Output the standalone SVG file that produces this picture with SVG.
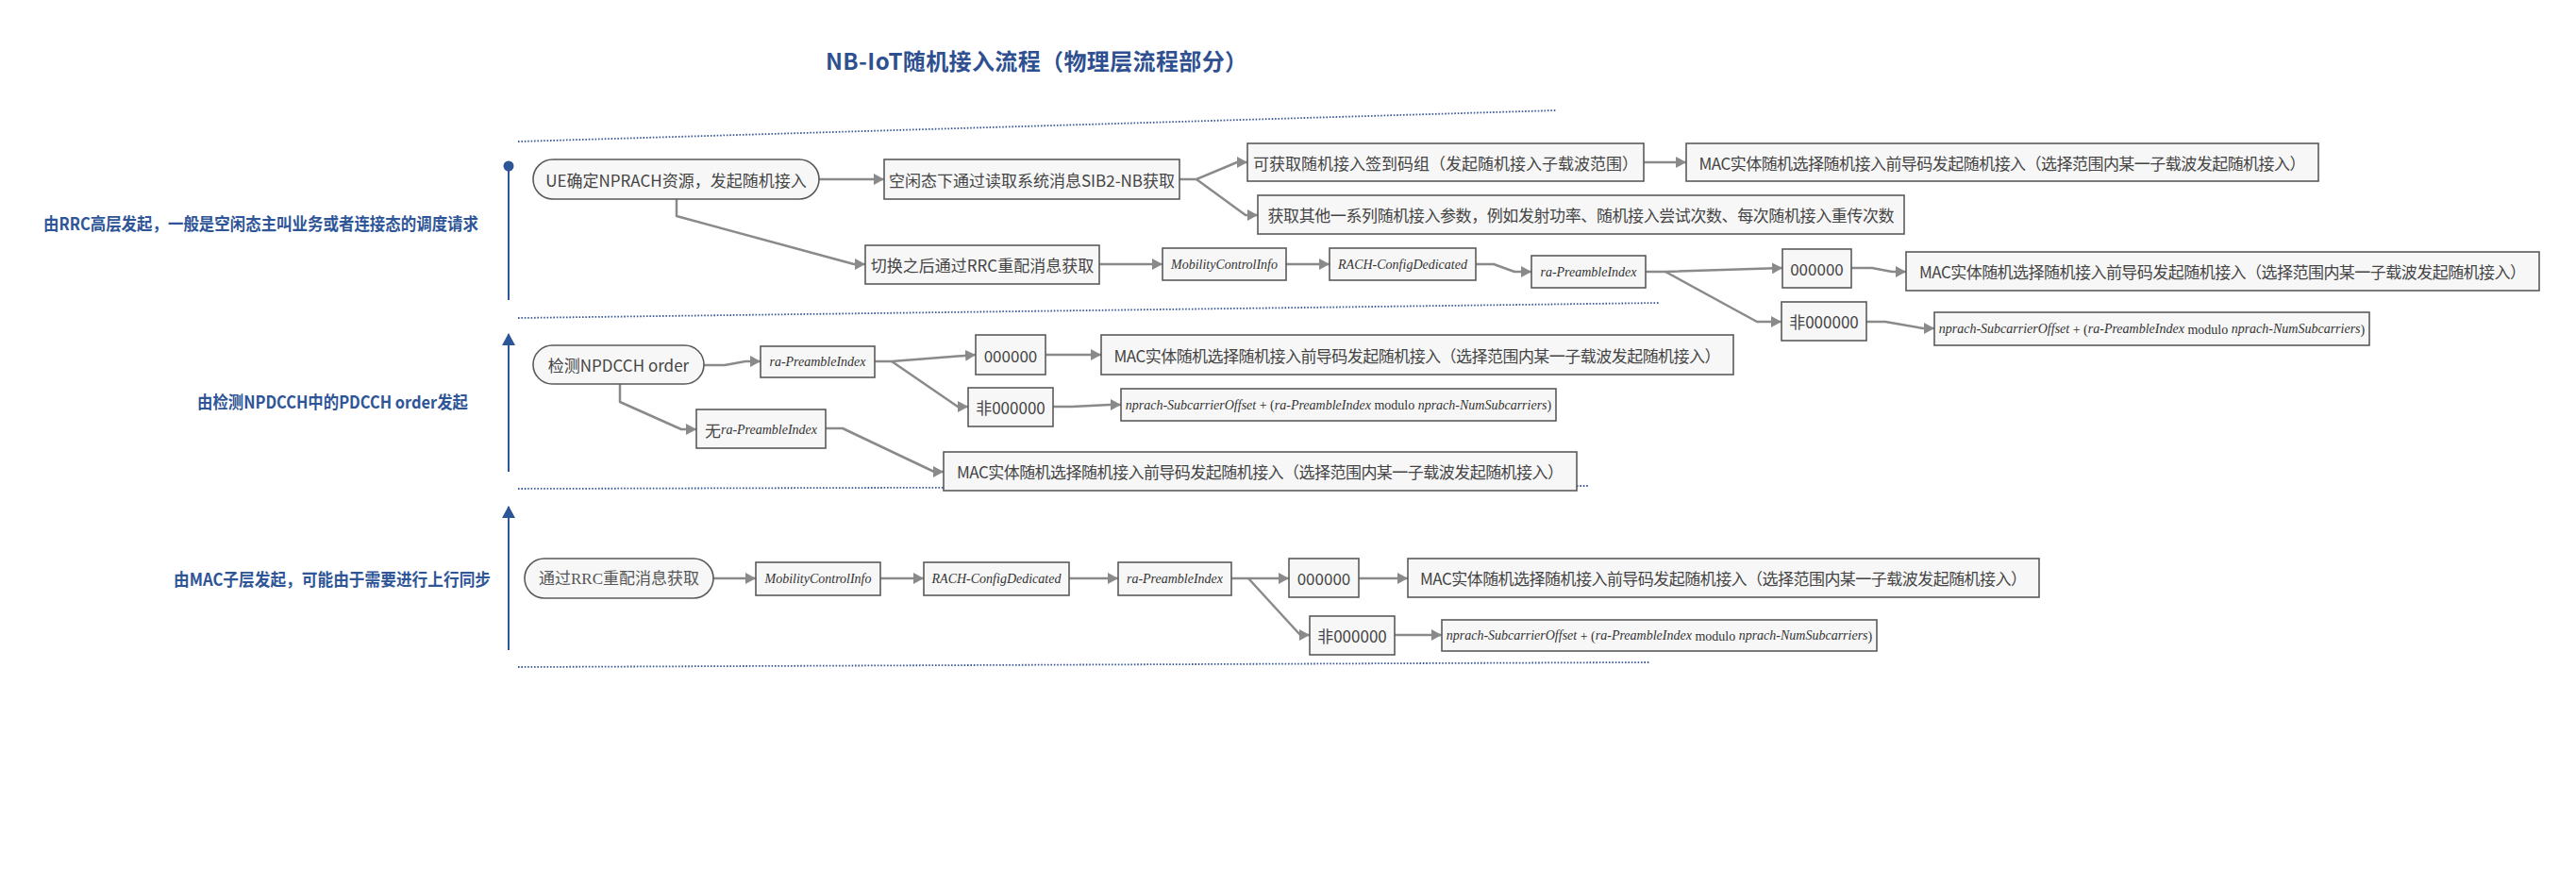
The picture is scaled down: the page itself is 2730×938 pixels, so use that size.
<svg xmlns="http://www.w3.org/2000/svg" width="2730" height="938" viewBox="0 0 2730 938">
<style>
.bg{fill:#ffffff}
.title{font-family:"Noto Sans CJK SC","Liberation Sans",sans-serif;font-size:24px;font-weight:bold;fill:#2e5090}
.lab{font-family:"Noto Sans CJK SC","Liberation Sans",sans-serif;font-size:18px;font-weight:bold;fill:#2e5597}
.box{fill:#f7f7f7;stroke:#5a5a5a;stroke-width:1.6}
.t{font-family:"Noto Sans CJK SC","Liberation Sans",sans-serif;font-size:17px;fill:#444444}
.ts{font-family:"Liberation Serif","Noto Sans CJK SC",serif;font-size:17px;fill:#555555}
.ti{font-family:"Liberation Serif",serif;font-size:14px;font-style:italic;fill:#333333}
.tr{font-family:"Liberation Serif",serif;font-size:14px;font-style:normal;fill:#333333}
.c{fill:none;stroke:#8a8a8a;stroke-width:2.5;stroke-linejoin:round;marker-end:url(#ah)}
.dot{fill:none;stroke:#3b5a99;stroke-width:1.8;stroke-dasharray:1.6 1.8}
.vl{stroke:#2e5597;stroke-width:2;fill:none}
</style>
<defs>
<marker id="ah" markerUnits="userSpaceOnUse" markerWidth="12" markerHeight="12" refX="11" refY="6" orient="auto">
<path d="M0,0 L11,6 L0,12 Z" fill="#8a8a8a"/>
</marker>
<marker id="va" markerUnits="userSpaceOnUse" markerWidth="14" markerHeight="14" refX="12" refY="7" orient="auto">
<path d="M0,0 L13,7 L0,14 Z" fill="#2e5597"/>
</marker>
</defs>
<rect class="bg" x="0" y="0" width="2730" height="938"/>

<g id="title">
<text class="title" x="875" y="63" dominant-baseline="central" textLength="447" lengthAdjust="spacing">NB-IoT随机接入流程（物理层流程部分）</text>
</g>

<g id="separators">
<line class="dot" x1="549" y1="150" x2="1649" y2="117"/>
<line class="dot" x1="549" y1="337" x2="1758" y2="321"/>
<line class="dot" x1="549" y1="518" x2="1683" y2="515"/>
<line class="dot" x1="549" y1="707" x2="1748" y2="702"/>
</g>

<g id="lanes">
<line class="vl" x1="539" y1="178" x2="539" y2="318"/>
<circle cx="539" cy="176" r="5.5" fill="#2e5597"/>
<line class="vl" x1="539" y1="500" x2="539" y2="354" marker-end="url(#va)"/>
<line class="vl" x1="539" y1="689" x2="539" y2="537" marker-end="url(#va)"/>
</g>

<g id="label-rrc">
<text class="lab" x="46" y="236" dominant-baseline="central" textLength="461" lengthAdjust="spacingAndGlyphs">由RRC高层发起，一般是空闲态主叫业务或者连接态的调度请求</text>
</g>
<g id="label-npdcch">
<text class="lab" x="209" y="425" dominant-baseline="central" textLength="287" lengthAdjust="spacingAndGlyphs">由检测NPDCCH中的PDCCH order发起</text>
</g>
<g id="label-mac">
<text class="lab" x="184" y="613" dominant-baseline="central" textLength="336" lengthAdjust="spacingAndGlyphs">由MAC子层发起，可能由于需要进行上行同步</text>
</g>

<g id="connectors">
<polyline class="c" points="868,190 937,190"/>
<polyline class="c" points="1250,190 1268,190 1311,172 1322,172"/>
<polyline class="c" points="1268,190 1320,228 1333,228"/>
<polyline class="c" points="717,211 717,229 905,280 917,280"/>
<polyline class="c" points="1165,280 1232,280"/>
<polyline class="c" points="1363,280 1409,280"/>
<polyline class="c" points="1564,280 1583,280 1605,288 1623,288"/>
<polyline class="c" points="1744,288 1765,288 1889,284"/>
<polyline class="c" points="1765,288 1862,341 1888,341"/>
<polyline class="c" points="1962,284 1984,284 2005,288 2020,288"/>
<polyline class="c" points="1978,341 1998,341 2038,348 2050,348"/>
<polyline class="c" points="1742,172 1787,172"/>
<polyline class="c" points="746,387 768,387 790,383 806,383"/>
<polyline class="c" points="927,383 945,383 1034,376"/>
<polyline class="c" points="945,383 1015,431 1026,431"/>
<polyline class="c" points="1108,376 1167,376"/>
<polyline class="c" points="1116,431 1136,431 1176,429 1188,429"/>
<polyline class="c" points="657,407 657,426 722,455 738,455"/>
<polyline class="c" points="875,454 893,454 990,500 1000,500"/>
<polyline class="c" points="756,613 801,613"/>
<polyline class="c" points="933,613 979,613"/>
<polyline class="c" points="1133,613 1185,613"/>
<polyline class="c" points="1305,613 1366,613"/>
<polyline class="c" points="1323,613 1378,673 1388,673"/>
<polyline class="c" points="1440,613 1492,613"/>
<polyline class="c" points="1478,673 1528,673"/>
</g>

<g id="n-ue">
<rect class="box" x="565" y="169" width="303" height="42" rx="21"/>
<text class="t" x="716.5" y="190" text-anchor="middle" dominant-baseline="central">UE确定NPRACH资源，发起随机接入</text>
</g>
<g id="n-sib2">
<rect class="box" x="937" y="169" width="313" height="42"/>
<text class="t" x="1093.5" y="190" text-anchor="middle" dominant-baseline="central">空闲态下通过读取系统消息SIB2-NB获取</text>
</g>
<g id="n-group">
<rect class="box" x="1322" y="152" width="420" height="40"/>
<text class="t" x="1532" y="172" text-anchor="middle" dominant-baseline="central">可获取随机接入签到码组（发起随机接入子载波范围）</text>
</g>
<g id="n-mac1a">
<rect class="box" x="1787" y="152" width="670" height="40"/>
<text class="t" x="2122" y="172" text-anchor="middle" dominant-baseline="central" textLength="643" lengthAdjust="spacing">MAC实体随机选择随机接入前导码发起随机接入（选择范围内某一子载波发起随机接入）</text>
</g>
<g id="n-params">
<rect class="box" x="1333" y="207" width="685" height="41"/>
<text class="t" x="1675.5" y="227.5" text-anchor="middle" dominant-baseline="central" textLength="664" lengthAdjust="spacing">获取其他一系列随机接入参数，例如发射功率、随机接入尝试次数、每次随机接入重传次数</text>
</g>
<g id="n-ho">
<rect class="box" x="917" y="260" width="248" height="41"/>
<text class="t" x="1041" y="280.5" text-anchor="middle" dominant-baseline="central">切换之后通过RRC重配消息获取</text>
</g>
<g id="n-mci1">
<rect class="box" x="1232" y="263" width="131" height="34"/>
<text class="ti" x="1297.5" y="280" text-anchor="middle" dominant-baseline="central">MobilityControlInfo</text>
</g>
<g id="n-rach1">
<rect class="box" x="1409" y="263" width="155" height="34"/>
<text class="ti" x="1486.5" y="280" text-anchor="middle" dominant-baseline="central">RACH-ConfigDedicated</text>
</g>
<g id="n-ra1">
<rect class="box" x="1623" y="271" width="121" height="34"/>
<text class="ti" x="1683.5" y="288" text-anchor="middle" dominant-baseline="central">ra-PreambleIndex</text>
</g>
<g id="n-zero1">
<rect class="box" x="1889" y="264" width="73" height="41"/>
<text class="t" x="1925.5" y="284.5" text-anchor="middle" dominant-baseline="central">000000</text>
</g>
<g id="n-nonzero1">
<rect class="box" x="1888" y="320" width="90" height="41"/>
<text class="t" x="1933" y="340.5" text-anchor="middle" dominant-baseline="central">非000000</text>
</g>
<g id="n-mac1b">
<rect class="box" x="2020" y="267" width="671" height="41"/>
<text class="t" x="2355.5" y="287.5" text-anchor="middle" dominant-baseline="central" textLength="643" lengthAdjust="spacing">MAC实体随机选择随机接入前导码发起随机接入（选择范围内某一子载波发起随机接入）</text>
</g>
<g id="n-np1">
<rect class="box" x="2050" y="331" width="461" height="35"/>
<text class="ti" x="2280.5" y="348.5" text-anchor="middle" dominant-baseline="central">nprach-SubcarrierOffset<tspan class="tr"> + (</tspan>ra-PreambleIndex<tspan class="tr"> modulo </tspan>nprach-NumSubcarriers<tspan class="tr">)</tspan></text>
</g>

<g id="n-npdcch">
<rect class="box" x="565" y="366" width="181" height="41" rx="20.5"/>
<text class="t" x="655.5" y="386.5" text-anchor="middle" dominant-baseline="central">检测NPDCCH order</text>
</g>
<g id="n-ra2">
<rect class="box" x="806" y="367" width="121" height="33"/>
<text class="ti" x="866.5" y="383.5" text-anchor="middle" dominant-baseline="central">ra-PreambleIndex</text>
</g>
<g id="n-zero2">
<rect class="box" x="1034" y="355" width="74" height="42"/>
<text class="t" x="1071" y="376" text-anchor="middle" dominant-baseline="central">000000</text>
</g>
<g id="n-mac2a">
<rect class="box" x="1167" y="355" width="670" height="42"/>
<text class="t" x="1502" y="376" text-anchor="middle" dominant-baseline="central" textLength="643" lengthAdjust="spacing">MAC实体随机选择随机接入前导码发起随机接入（选择范围内某一子载波发起随机接入）</text>
</g>
<g id="n-nonzero2">
<rect class="box" x="1026" y="411" width="90" height="41"/>
<text class="t" x="1071" y="431.5" text-anchor="middle" dominant-baseline="central">非000000</text>
</g>
<g id="n-np2">
<rect class="box" x="1188" y="412" width="461" height="34"/>
<text class="ti" x="1418.5" y="429" text-anchor="middle" dominant-baseline="central">nprach-SubcarrierOffset<tspan class="tr"> + (</tspan>ra-PreambleIndex<tspan class="tr"> modulo </tspan>nprach-NumSubcarriers<tspan class="tr">)</tspan></text>
</g>
<g id="n-nora">
<rect class="box" x="738" y="434" width="137" height="41"/>
<text x="806.5" y="454.5" text-anchor="middle" dominant-baseline="central"><tspan class="t">无</tspan><tspan class="ti">ra-PreambleIndex</tspan></text>
</g>
<g id="n-mac2b">
<rect class="box" x="1000" y="479" width="671" height="41"/>
<text class="t" x="1335.5" y="499.5" text-anchor="middle" dominant-baseline="central" textLength="643" lengthAdjust="spacing">MAC实体随机选择随机接入前导码发起随机接入（选择范围内某一子载波发起随机接入）</text>
</g>

<g id="n-rrc3">
<rect class="box" x="556" y="592" width="200" height="42" rx="21"/>
<text class="ts" x="656" y="613" text-anchor="middle" dominant-baseline="central">通过RRC重配消息获取</text>
</g>
<g id="n-mci3">
<rect class="box" x="801" y="596" width="132" height="35"/>
<text class="ti" x="867" y="613.5" text-anchor="middle" dominant-baseline="central">MobilityControlInfo</text>
</g>
<g id="n-rach3">
<rect class="box" x="979" y="596" width="154" height="35"/>
<text class="ti" x="1056" y="613.5" text-anchor="middle" dominant-baseline="central">RACH-ConfigDedicated</text>
</g>
<g id="n-ra3">
<rect class="box" x="1185" y="596" width="120" height="35"/>
<text class="ti" x="1245" y="613.5" text-anchor="middle" dominant-baseline="central">ra-PreambleIndex</text>
</g>
<g id="n-zero3">
<rect class="box" x="1366" y="592" width="74" height="41"/>
<text class="t" x="1403" y="612.5" text-anchor="middle" dominant-baseline="central">000000</text>
</g>
<g id="n-mac3">
<rect class="box" x="1492" y="592" width="669" height="41"/>
<text class="t" x="1826.5" y="612.5" text-anchor="middle" dominant-baseline="central" textLength="643" lengthAdjust="spacing">MAC实体随机选择随机接入前导码发起随机接入（选择范围内某一子载波发起随机接入）</text>
</g>
<g id="n-nonzero3">
<rect class="box" x="1388" y="653" width="90" height="41"/>
<text class="t" x="1433" y="673.5" text-anchor="middle" dominant-baseline="central">非000000</text>
</g>
<g id="n-np3">
<rect class="box" x="1528" y="657" width="461" height="33"/>
<text class="ti" x="1758.5" y="673.5" text-anchor="middle" dominant-baseline="central">nprach-SubcarrierOffset<tspan class="tr"> + (</tspan>ra-PreambleIndex<tspan class="tr"> modulo </tspan>nprach-NumSubcarriers<tspan class="tr">)</tspan></text>
</g>
</svg>
